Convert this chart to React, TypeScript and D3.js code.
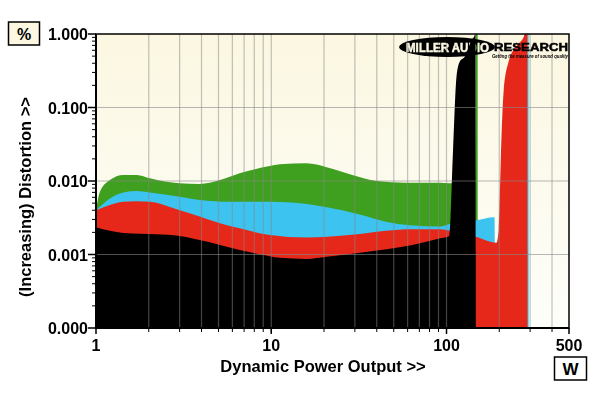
import React from 'react'
import * as d3 from 'd3'

// power (W), distortion (%)
const greenData: [number, number][] = [
  [1, 0.004], [1.05, 0.007], [1.2, 0.0103], [1.43, 0.0121], [1.71, 0.0121], [2.03, 0.0109],
  [3.0, 0.0093], [3.9, 0.0091], [5.1, 0.0103], [6.6, 0.0127], [9.8, 0.016], [11.2, 0.0169],
  [15.9, 0.0174], [20.7, 0.0154], [29, 0.0121], [40, 0.01], [59, 0.0095], [92, 0.0095],
  [104, 0.0093], [140, 0.0093], [146, 0.0095], [147.5, 1.5], [150.5, 1.5], [151, 0.0001],
]
const cyanData: [number, number][] = [
  [1, 0.004], [1.2, 0.0058], [1.43, 0.007], [1.71, 0.0073], [2.03, 0.007], [3.0, 0.0061],
  [3.9, 0.0055], [5.8, 0.0052], [9.8, 0.0052], [13, 0.0051], [20.7, 0.0044], [32, 0.0035],
  [45, 0.0028], [62, 0.0025], [92, 0.0024], [104, 0.0026], [147, 0.0029], [188, 0.0032],
  [189, 0.0012], [286, 0.0012], [289, 1.5], [294, 1.5], [294.5, 0.0001],
]
const redData: [number, number][] = [
  [1, 0.004], [1.2, 0.0047], [1.43, 0.0052], [1.71, 0.0053], [2.03, 0.0052], [3.0, 0.004],
  [3.9, 0.0033], [5.1, 0.00266], [6.6, 0.00227], [9.8, 0.00184], [15.9, 0.0017], [21, 0.00175],
  [32, 0.0019], [45, 0.0021], [64, 0.0022], [92, 0.0022], [104, 0.0021], [147, 0.00175],
  [193, 0.00145], [198.6, 0.0022], [206, 0.04], [212, 0.17], [226, 0.42], [252, 0.7],
  [276, 0.92], [285, 1.2], [289.5, 1.2], [290, 0.0001],
]
const blackData: [number, number][] = [
  [1, 0.00235], [1.2, 0.0021], [1.43, 0.00196], [2.2, 0.00188], [3.0, 0.00179], [3.9, 0.00157],
  [5.1, 0.00135], [6.6, 0.00115], [9.8, 0.00095], [11.2, 0.0009], [15.9, 0.00087], [20.7, 0.00093],
  [32, 0.00106], [45.5, 0.00118], [64, 0.00135], [92, 0.00166], [104, 0.00179], [109, 0.0264],
  [114, 0.26], [119, 0.42], [127, 0.49], [139, 0.83], [145, 0.97], [146.5, 1.2], [147, 0.0001],
]

const series = [
  { name: 'green', color: '#3f9f1f', data: greenData },
  { name: 'cyan', color: '#3cc3ef', data: cyanData },
  { name: 'red', color: '#e5281a', data: redData },
  { name: 'black', color: '#000000', data: blackData },
]

const xTickLabels = [1, 10, 100, 500]
const yTickValues = [1, 0.1, 0.01, 0.001, 0.0001]

const W = 600, H = 393
const left = 96, right = 569, top = 34, bottom = 328
const font = '"Liberation Sans", Arial, sans-serif'

export default function App() {
  const x = d3.scaleLog().domain([1, 500]).range([left, right])
  const y = d3.scaleLog().domain([0.0001, 1]).range([bottom, top])

  const area = d3.area<[number, number]>()
    .x(d => x(d[0]))
    .y0(y(0.0001))
    .y1(d => y(Math.max(d[1], 0.0001)))
    .curve(d3.curveMonotoneX)

  const xMinor: number[] = []
  for (const dec of [1, 10, 100]) {
    for (let k = 1; k <= 9; k++) {
      const v = dec * k
      if (v > 1 && v < 500) xMinor.push(v)
    }
  }
  const yMinor: number[] = []
  for (const dec of [0.0001, 0.001, 0.01, 0.1]) {
    for (let k = 2; k <= 9; k++) yMinor.push(dec * k)
  }
  const fmt = d3.format('.3f')

  return (
    <svg width={W} height={H} style={{ position: 'absolute', left: 0, top: 0, background: '#fff' }}>
      <defs>
        <linearGradient id="bg" x1="0" y1="0" x2="0" y2="1">
          <stop offset="0%" stopColor="#fbf7e1" />
          <stop offset="100%" stopColor="#fefefa" />
        </linearGradient>
        <clipPath id="plot">
          <rect x={left} y={top} width={right - left} height={bottom - top} />
        </clipPath>
      </defs>

      <rect x={left} y={top} width={right - left} height={bottom - top} fill="url(#bg)" />

      <g clipPath="url(#plot)">
        {series.map(s => (
          <path key={s.name} d={area(s.data) || ''} fill={s.color} />
        ))}
        {xMinor.map(v => (
          <line key={'gx' + v} x1={x(v)} x2={x(v)} y1={top} y2={bottom} stroke="#888" strokeOpacity={0.5} strokeWidth={1.2} />
        ))}
        {yTickValues.slice(1, 4).map(v => (
          <line key={'gy' + v} x1={left} x2={right} y1={y(v)} y2={y(v)} stroke="#888" strokeOpacity={0.6} strokeWidth={1.2} />
        ))}
      </g>

      {/* logo, multiplied over the plot */}
      <g style={{ mixBlendMode: 'multiply' }}>
        <ellipse cx={447} cy={47} rx={48} ry={10} fill="#000" />
        <text x={406} y={51.5} fill="#fff" stroke="#fff" strokeWidth={0.5} fontFamily={font} fontWeight={900} fontSize={12}
          textLength={83} lengthAdjust="spacingAndGlyphs">MILLER AUDIO</text>
        <text x={494} y={51} fill="#000" stroke="#000" strokeWidth={0.5} fontFamily={font} fontWeight={900} fontSize={11.5}
          textLength={74} lengthAdjust="spacingAndGlyphs">RESEARCH</text>
        <text x={492} y={57.8} fill="#000" fontFamily={font} fontWeight={700} fontStyle="italic" fontSize={4.6}
          textLength={76} lengthAdjust="spacingAndGlyphs">Getting the measure of sound quality</text>
      </g>

      {/* frame */}
      <rect x={left} y={top} width={right - left} height={bottom - top} fill="none" stroke="#000" strokeWidth={1.5} />
      <line x1={left} x2={left} y1={top} y2={bottom + 1} stroke="#000" strokeWidth={2} />
      <line x1={left - 1} x2={right} y1={bottom} y2={bottom} stroke="#000" strokeWidth={2} />

      {/* y ticks */}
      {yMinor.map(v => (
        <line key={'ym' + v} x1={left - 4} x2={left} y1={y(v)} y2={y(v)} stroke="#000" strokeWidth={1} />
      ))}
      {yTickValues.map(v => (
        <g key={'yt' + v}>
          <line x1={left - 8} x2={left} y1={y(v)} y2={y(v)} stroke="#000" strokeWidth={1.5} />
          <text x={left - 8} y={y(v) + 6} textAnchor="end" fontFamily={font} fontWeight={700} fontSize={16}>
            {fmt(v)}
          </text>
        </g>
      ))}

      {/* x ticks */}
      {xMinor.map(v => (
        <line key={'xm' + v} x1={x(v)} x2={x(v)} y1={bottom} y2={bottom + 4} stroke="#000" strokeWidth={1} />
      ))}
      {xTickLabels.map(v => (
        <g key={'xt' + v}>
          <line x1={x(v)} x2={x(v)} y1={bottom} y2={bottom + 6} stroke="#000" strokeWidth={1.5} />
          <text x={x(v)} y={350.5} textAnchor="middle" fontFamily={font} fontWeight={700} fontSize={16}>
            {v}
          </text>
        </g>
      ))}

      {/* titles */}
      <text x={323} y={372} textAnchor="middle" fontFamily={font} fontWeight={700} fontSize={16.5}>
        Dynamic Power Output &gt;&gt;
      </text>
      <text transform="translate(31,197) rotate(-90)" textAnchor="middle" fontFamily={font} fontWeight={700} fontSize={16.5}>
        (Increasing) Distortion &gt;&gt;
      </text>

      {/* unit boxes */}
      <rect x={8.5} y={22} width={31} height={23} fill="#fbf7e1" stroke="#000" strokeWidth={1.5} />
      <text x={24} y={39.5} textAnchor="middle" fontFamily={font} fontWeight={700} fontSize={16}>%</text>
      <rect x={554.5} y={357} width={32} height={23} fill="#fff" stroke="#000" strokeWidth={1.5} />
      <text x={570.5} y={375} textAnchor="middle" fontFamily={font} fontWeight={700} fontSize={17}>W</text>
    </svg>
  )
}
